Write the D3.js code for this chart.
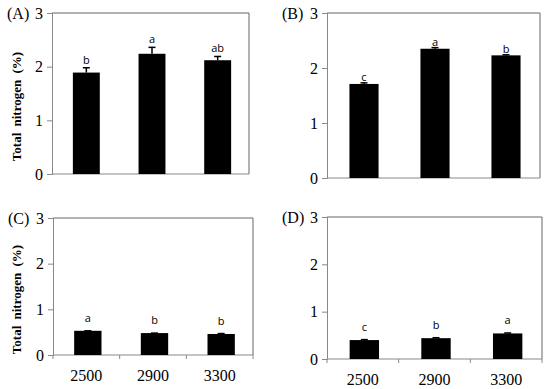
<!DOCTYPE html>
<html>
<head>
<meta charset="utf-8">
<script src="https://cdn.jsdelivr.net/npm/d3@7"></script>
<style>
  body { margin: 0; background: #fff; }
  svg { display: block; }
  .serif { font-family: "Liberation Serif", "Times New Roman", Times, serif; }
  .sans { font-family: "Open Sans", "Liberation Sans", sans-serif; }
</style>
</head>
<body>
<div id="chart"></div>
<script>
// altitude categories
var categories = ["2500", "2900", "3300"];
var yTicks = [0, 1, 2, 3];
var panelNames = ["(A)", "(B)", "(C)", "(D)"];

// total nitrogen (%) per panel
var valuesA = [1.89, 2.24, 2.12];
var valuesB = [1.71, 2.35, 2.23];
var valuesC = [0.53, 0.48, 0.46];
var valuesD = [0.40, 0.44, 0.54];

// standard errors
var errA = [0.09, 0.12, 0.07];
var errB = [0.02, 0.02, 0.01];
var errC = [0.00, 0.00, 0.01];
var errD = [0.01, 0.01, 0.01];

// letters from the mean comparison
var lettersA = ["b", "a", "ab"];
var lettersB = ["c", "a", "b"];
var lettersC = ["a", "b", "b"];
var lettersD = ["c", "b", "a"];

var W = 550, H = 389;
var svg = d3.select("#chart").append("svg").attr("width", W).attr("height", H);

// panel boxes (left, top, right, bottom) + layout options
var panels = [
  {name: panelNames[0], vals: valuesA, err: errA, let: lettersA, l: 52, t: 13, r: 249, b: 174, ylab: true, xlab: false, lblGap: 4},
  {name: panelNames[1], vals: valuesB, err: errB, let: lettersB, l: 327, t: 13, r: 540, b: 178, ylab: false, xlab: false, lblGap: 2},
  {name: panelNames[2], vals: valuesC, err: errC, let: lettersC, l: 53, t: 218, r: 253, b: 355, ylab: true, xlab: true, lblGap: 9},
  {name: panelNames[3], vals: valuesD, err: errD, let: lettersD, l: 327, t: 217, r: 542, b: 359, ylab: false, xlab: true, lblGap: 9}
];

panels.forEach(function(p) {
  var x = d3.scaleBand().domain(categories).range([p.l, p.r]).padding(0);
  var y = d3.scaleLinear().domain([0, 3]).range([p.b, p.t]);
  var g = svg.append("g");

  // frame top and right
  g.append("path")
   .attr("d", "M" + p.l + "," + p.t + "H" + p.r + "V" + p.b)
   .attr("fill", "none").attr("stroke", "#666").attr("stroke-width", 1);

  // left axis
  var ya = g.append("g").attr("transform", "translate(" + p.l + ",0)")
    .call(d3.axisLeft(y).tickValues(yTicks).tickSize(5).tickPadding(4).tickFormat(d3.format("d")));
  ya.attr("font-family", null);
  ya.select(".domain").attr("stroke", "#888");
  ya.selectAll(".tick line").attr("stroke", "#888");
  ya.selectAll("text").attr("class", "serif").attr("font-size", 16).attr("fill", "#000");

  // bottom axis
  g.append("line").attr("x1", p.l).attr("x2", p.r).attr("y1", p.b).attr("y2", p.b)
   .attr("stroke", "#888");
  if (p.xlab) {
    var edges = categories.map(function(c) { return x(c); }).concat([p.r]);
    g.selectAll(".xt").data(edges).enter().append("line")
     .attr("x1", function(d) { return d; }).attr("x2", function(d) { return d; })
     .attr("y1", p.b).attr("y2", p.b + 4).attr("stroke", "#888");
    g.selectAll(".xl").data(categories).enter().append("text")
     .attr("class", "serif")
     .attr("x", function(d) { return x(d) + x.bandwidth() / 2; })
     .attr("y", p.b + 26)
     .attr("text-anchor", "middle")
     .attr("font-size", 16)
     .text(function(d) { return d; });
  }

  var bw = x.bandwidth() * 0.41;
  var cx = function(i) { return x(categories[i]) + x.bandwidth() / 2 + 1.5; };

  g.selectAll(".bar").data(p.vals).enter().append("rect")
   .attr("x", function(d, i) { return cx(i) - bw / 2; })
   .attr("y", function(d) { return y(d); })
   .attr("width", bw)
   .attr("height", function(d) { return y(0) - y(d); })
   .attr("fill", "#000");

  // error bars
  p.vals.forEach(function(v, i) {
    var top = y(v + p.err[i]);
    g.append("line").attr("x1", cx(i)).attr("x2", cx(i)).attr("y1", y(v)).attr("y2", top)
     .attr("stroke", "#000").attr("stroke-width", 1.5);
    g.append("line").attr("x1", cx(i) - 3.5).attr("x2", cx(i) + 3.5).attr("y1", top).attr("y2", top)
     .attr("stroke", "#000").attr("stroke-width", 1.5);
    g.append("text").attr("class", "sans")
     .attr("x", cx(i)).attr("y", top - p.lblGap)
     .attr("text-anchor", "middle")
     .attr("font-size", 11).attr("fill", "#000")
     .text(p.let[i]);
  });

  // panel letter
  g.append("text").attr("class", "serif")
   .attr("x", p.l - 45).attr("y", p.t + 6)
   .attr("font-size", 16)
   .text(p.name);

  if (p.ylab) {
    var cy = (p.t + p.b) / 2 + 13;
    g.append("text").attr("class", "serif")
     .attr("transform", "translate(" + 21 + "," + cy + ") rotate(-90)")
     .attr("text-anchor", "middle")
     .attr("font-weight", "bold")
     .attr("font-size", 13).attr("word-spacing", 3)
     .text("Total nitrogen (%)");
  }
});
</script>
</body>
</html>
